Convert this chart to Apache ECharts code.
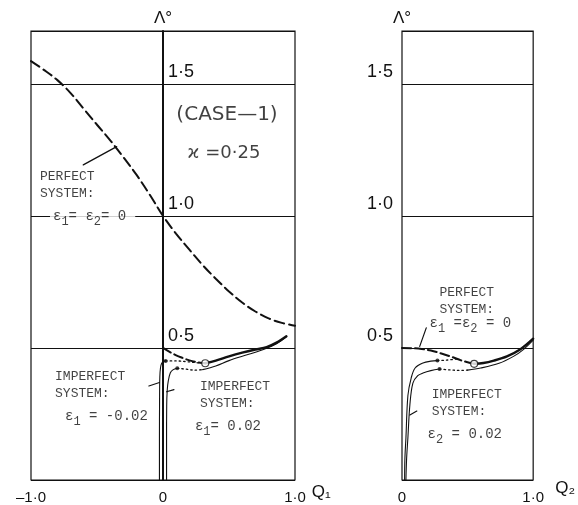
<!DOCTYPE html>
<html>
<head>
<meta charset="utf-8">
<script src="https://cdn.jsdelivr.net/npm/echarts@6/dist/echarts.min.js"></script>
<style>
  html, body { margin: 0; padding: 0; background: #fff; }
  #chart { width: 578px; height: 505px; }
</style>
</head>
<body>
<div id="chart"></div>
<script>
// ---- tick labels ----
const yTicks = [0.5, 1.0, 1.5];
const yTickText = ['0·5', '1·0', '1·5'];
const q1Ticks = [-1, 0, 1];
const q1TickText = ['–1·0', '0', '1·0'];
const q2Ticks = [0, 1];
const q2TickText = ['0', '1·0'];

// ---- mode Q1 (left panel): [Q1, Λ°] ----
const q1PerfectMain = [[-1.0, 1.586], [-0.9, 1.552], [-0.8, 1.514], [-0.7, 1.465], [-0.6, 1.405],
  [-0.5, 1.345], [-0.4, 1.286], [-0.3, 1.222], [-0.2, 1.155], [-0.1, 1.08], [0, 1.0],
  [0.1, 0.932], [0.2, 0.872], [0.3, 0.814], [0.4, 0.762], [0.5, 0.714], [0.6, 0.672],
  [0.7, 0.638], [0.8, 0.612], [0.9, 0.595], [1.0, 0.584]];
const q1PerfectLowUnstable = [[0, 0.5], [0.05, 0.485], [0.1, 0.472], [0.15, 0.462], [0.2, 0.453],
  [0.26, 0.446], [0.32, 0.442]];
const q1PerfectLowStable = [[0.32, 0.442], [0.4, 0.452], [0.5, 0.468], [0.6, 0.482], [0.7, 0.494],
  [0.785, 0.503], [0.86, 0.52], [0.935, 0.544]];
const q1CriticalPoint = [[0.32, 0.442]];
// ε1 = +0.02
const q1PlusRise = [[0.027, 0], [0.027, 0.15], [0.028, 0.28], [0.032, 0.34], [0.04, 0.375],
  [0.055, 0.405], [0.075, 0.417], [0.108, 0.423]];
const q1PlusUnstable = [[0.108, 0.423], [0.17, 0.42], [0.24, 0.416], [0.3, 0.418]];
const q1PlusStable = [[0.3, 0.418], [0.4, 0.432], [0.5, 0.452], [0.65, 0.476], [0.78, 0.498],
  [0.86, 0.516], [0.935, 0.542]];
// ε1 = -0.02
const q1MinusRise = [[-0.027, 0], [-0.027, 0.15], [-0.026, 0.3], [-0.024, 0.39], [-0.019, 0.425],
  [-0.01, 0.442], [0.005, 0.449], [0.02, 0.451]];
const q1MinusUnstable = [[0.02, 0.451], [0.1, 0.451], [0.18, 0.448], [0.26, 0.444], [0.32, 0.442]];
const q1LimitPoints = [[0.108, 0.423], [0.02, 0.451]];

// ---- mode Q2 (right panel): [Q2, Λ°] ----
const q2PerfectUnstable = [[0, 0.5], [0.08, 0.499], [0.15, 0.496], [0.22, 0.49], [0.3, 0.479],
  [0.38, 0.466], [0.45, 0.453], [0.5, 0.446], [0.55, 0.44]];
const q2PerfectStable = [[0.55, 0.44], [0.62, 0.443], [0.7, 0.452], [0.8, 0.468], [0.9, 0.494],
  [1.0, 0.535]];
const q2CriticalPoint = [[0.55, 0.44]];
const q2UpperRise = [[0.02, 0], [0.022, 0.08], [0.03, 0.16], [0.045, 0.32], [0.07, 0.386],
  [0.1, 0.424], [0.16, 0.443], [0.22, 0.45], [0.27, 0.452]];
const q2UpperUnstable = [[0.27, 0.452], [0.34, 0.454], [0.42, 0.458]];
const q2LowerRise = [[0.03, 0], [0.035, 0.08], [0.045, 0.16], [0.06, 0.284], [0.083, 0.367],
  [0.12, 0.395], [0.16, 0.405], [0.22, 0.414], [0.286, 0.42]];
const q2LowerUnstable = [[0.286, 0.42], [0.36, 0.417], [0.43, 0.415], [0.5, 0.416]];
const q2LowerStable = [[0.5, 0.416], [0.6, 0.424], [0.74, 0.442], [0.85, 0.468], [0.92, 0.492],
  [1.0, 0.53]];
const q2LimitPoints = [[0.27, 0.452], [0.286, 0.42]];

// ---- leader lines for the annotations ----
const leaderQ1Perfect = [[-0.604, 1.193], [-0.351, 1.262]];
const leaderQ1Minus = [[-0.107, 0.356], [-0.027, 0.369]];
const leaderQ1Plus = [[0.027, 0.334], [0.083, 0.342]];
const leaderQ2Perfect = [[0.185, 0.576], [0.135, 0.506]];
const leaderQ2Imperfect = [[0.06, 0.246], [0.113, 0.261]];

const INK = '#111';
const MONO = '"Liberation Mono", "DejaVu Sans Mono", monospace';
const SANS = '"Liberation Sans", Arial, sans-serif';
const WIDE = '"DejaVu Sans", "Liberation Sans", sans-serif';

const noteRich = {
  t: { fontFamily: MONO, fontSize: 14, color: INK, lineHeight: 16 },
  s: { fontFamily: MONO, fontSize: 12, color: INK, lineHeight: 16, padding: [11, 0, 0, 0] }
};

// annotation texts, anchored in data units of each panel
const notes = [
  { g: 0, at: [-0.932, 1.117], text: 'PERFECT\nSYSTEM:' },
  { g: 0, at: [-0.856, 1.0], text: '{t|ε}{s|1}{t|= ε}{s|2}{t|= 0}', bg: true },
  { g: 0, at: [0.485, 1.383], text: '(CASE—1)', big: 20 },
  { g: 0, at: [0.462, 1.235], text: 'ϰ =0·25', big: 18 },
  { g: 0, at: [-0.818, 0.36], text: 'IMPERFECT\nSYSTEM:' },
  { g: 0, at: [-0.742, 0.24], text: '{t|ε}{s|1}{t| = -0.02}' },
  { g: 0, at: [0.28, 0.322], text: 'IMPERFECT\nSYSTEM:' },
  { g: 0, at: [0.242, 0.202], text: '{t|ε}{s|1}{t|= 0.02}' },
  { g: 1, at: [0.286, 0.676], text: 'PERFECT\nSYSTEM:' },
  { g: 1, at: [0.21, 0.592], text: '{t|ε}{s|1}{t| =ε}{s|2}{t| = 0}' },
  { g: 1, at: [0.226, 0.292], text: 'IMPERFECT\nSYSTEM:' },
  { g: 1, at: [0.195, 0.172], text: '{t|ε}{s|2}{t| = 0.02}' }
];

function tickFormatter(ticks, texts) {
  return function (v) {
    for (let i = 0; i < ticks.length; i++) {
      if (Math.abs(ticks[i] - v) < 1e-6) return texts[i];
    }
    return '';
  };
}

function curve(g, data, style) {
  return {
    type: 'line', xAxisIndex: g, yAxisIndex: g, data: data,
    smooth: style.smooth === undefined ? 0.35 : style.smooth,
    showSymbol: false, silent: true, animation: false, z: 3,
    lineStyle: { color: INK, width: style.width || 1, type: style.type || 'solid', cap: 'round' }
  };
}

function points(g, data, open) {
  return {
    type: 'scatter', xAxisIndex: g, yAxisIndex: g, data: data, silent: true, animation: false,
    symbol: 'circle', symbolSize: open ? 7 : 4, z: 5,
    itemStyle: open ? { color: '#fff', borderColor: INK, borderWidth: 1.2 } : { color: INK }
  };
}

const series = [
  curve(0, q1PerfectMain, { width: 2, type: [10, 5] }),
  curve(0, q1PerfectLowUnstable, { width: 2, type: [9, 4] }),
  curve(0, q1PerfectLowStable, { width: 2.4 }),
  curve(0, q1PlusRise, { width: 1.1 }),
  curve(0, q1PlusUnstable, { width: 1.3, type: [1.5, 3] }),
  curve(0, q1PlusStable, { width: 1.1 }),
  curve(0, q1MinusRise, { width: 1.1 }),
  curve(0, q1MinusUnstable, { width: 1.3, type: [1.5, 3] }),
  points(0, q1LimitPoints, false),
  points(0, q1CriticalPoint, true),
  curve(0, leaderQ1Perfect, { width: 1.3, smooth: false }),
  curve(0, leaderQ1Minus, { width: 1.2, smooth: false }),
  curve(0, leaderQ1Plus, { width: 1.2, smooth: false }),

  curve(1, q2PerfectUnstable, { width: 2, type: [9, 4] }),
  curve(1, q2PerfectStable, { width: 2.4 }),
  curve(1, q2UpperRise, { width: 1.1 }),
  curve(1, q2UpperUnstable, { width: 1.3, type: [1.5, 3] }),
  curve(1, q2LowerRise, { width: 1.1 }),
  curve(1, q2LowerUnstable, { width: 1.3, type: [1.5, 3] }),
  curve(1, q2LowerStable, { width: 1.1 }),
  points(1, q2LimitPoints, false),
  points(1, q2CriticalPoint, true),
  curve(1, leaderQ2Perfect, { width: 1.2, smooth: false }),
  curve(1, leaderQ2Imperfect, { width: 1.2, smooth: false })
];

[0, 1].forEach(function (g) {
  series.push({
    type: 'scatter', xAxisIndex: g, yAxisIndex: g, symbolSize: 0, silent: true, animation: false, z: 6,
    data: notes.filter(function (n) { return n.g === g; }).map(function (n) {
      const label = n.big ? {
        show: true, position: 'inside', formatter: n.text,
        fontFamily: WIDE, fontSize: n.big, color: INK
      } : {
        show: true, position: 'right', distance: 0, align: 'left', formatter: n.text,
        fontFamily: MONO, fontSize: 13, lineHeight: 17, color: INK, rich: noteRich
      };
      if (n.bg) { label.backgroundColor = '#fff'; label.padding = [0, 9, 0, 3]; }
      return { value: n.at, label: label };
    })
  });
});

const valueLabel = { fontFamily: SANS, fontSize: 18, color: INK };
const LEFT_W = 264;

const option = {
  backgroundColor: '#fff',
  animation: false,
  grid: [
    { left: 31, top: 31, width: LEFT_W, height: 450, show: true, borderColor: INK, borderWidth: 1.2, backgroundColor: 'transparent' },
    { left: 402, top: 31, width: 133, height: 450, show: true, borderColor: INK, borderWidth: 1.2, backgroundColor: 'transparent' }
  ],
  xAxis: [
    {
      gridIndex: 0, type: 'value', min: -1, max: 1, interval: 1,
      axisLine: { show: false }, axisTick: { show: false }, splitLine: { show: false },
      axisLabel: { formatter: tickFormatter(q1Ticks, q1TickText), fontFamily: SANS, fontSize: 15, color: INK, margin: 10, showMaxLabel: true, showMinLabel: true },
      name: 'Q₁', nameLocation: 'end', nameGap: 15,
      nameTextStyle: { fontFamily: SANS, fontSize: 17, color: INK, verticalAlign: 'top', padding: [4, 0, 0, 0] }
    },
    {
      gridIndex: 1, type: 'value', min: 0, max: 1, interval: 1,
      axisLine: { show: false }, axisTick: { show: false }, splitLine: { show: false },
      axisLabel: { formatter: tickFormatter(q2Ticks, q2TickText), fontFamily: SANS, fontSize: 15, color: INK, margin: 10, showMaxLabel: true, showMinLabel: true },
      name: 'Q₂', nameLocation: 'end', nameGap: 22,
      nameTextStyle: { fontFamily: SANS, fontSize: 17, color: INK, verticalAlign: 'top', padding: [0, 0, 0, 0] }
    }
  ],
  yAxis: [
    {
      // Λ° axis drawn through Q1 = 0, in the middle of the left panel
      gridIndex: 0, type: 'value', min: 0, max: 1.7, interval: 0.5,
      position: 'left', offset: -LEFT_W / 2,
      axisLine: { show: true, onZero: false, lineStyle: { color: INK, width: 2 } },
      axisTick: { show: false },
      splitLine: { show: true, lineStyle: { color: INK, width: 1 } },
      axisLabel: Object.assign({ inside: true, margin: 5, verticalAlign: 'bottom', padding: [0, 0, 3, 0],
        formatter: tickFormatter(yTicks, yTickText) }, valueLabel),
      name: 'Λ°', nameLocation: 'end', nameGap: 4,
      nameTextStyle: { fontFamily: SANS, fontSize: 17, color: INK }
    },
    {
      gridIndex: 1, type: 'value', min: 0, max: 1.7, interval: 0.5,
      axisLine: { show: false }, axisTick: { show: false },
      splitLine: { show: true, lineStyle: { color: INK, width: 1 } },
      axisLabel: Object.assign({ margin: 9, verticalAlign: 'bottom', padding: [0, 0, 3, 0],
        formatter: tickFormatter(yTicks, yTickText) }, valueLabel),
      name: 'Λ°', nameLocation: 'end', nameGap: 4,
      nameTextStyle: { fontFamily: SANS, fontSize: 17, color: INK }
    }
  ],
  series: series
};

const chart = echarts.init(document.getElementById('chart'), null, { renderer: 'canvas' });
chart.setOption(option);
</script>
</body>
</html>
